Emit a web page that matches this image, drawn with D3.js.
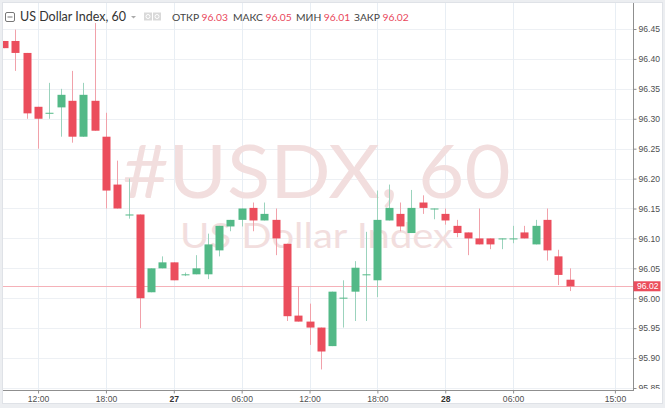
<!DOCTYPE html>
<html>
<head>
<meta charset="utf-8">
<script src="https://cdn.jsdelivr.net/npm/d3@7"></script>
<style>
  html, body { margin: 0; padding: 0; background: #eceef1; }
  svg { display: block; }
  .axis text { font-family: "Liberation Sans", Arial, sans-serif; font-size: 8.6px; fill: #4f4f4f; }
  .axis .domain { stroke: #8f8f8f; }
  .axis .tick line { stroke: #8f8f8f; }
  .hdr { font-family: Lato, "Noto Sans", sans-serif; }
</style>
</head>
<body>
<div id="chart"></div>
<script>
// hourly candles, 26 09:00 .. 28 11:00
const TIMES = [
  '26 09:00','26 10:00','26 11:00','26 12:00','26 13:00','26 14:00','26 15:00','26 16:00','26 17:00',
  '26 18:00','26 19:00','26 20:00','26 21:00','26 22:00','26 23:00',
  '27 00:00','27 01:00','27 02:00','27 03:00','27 04:00','27 05:00','27 06:00','27 07:00','27 08:00',
  '27 09:00','27 10:00','27 11:00','27 12:00','27 13:00','27 14:00','27 15:00','27 16:00','27 17:00',
  '27 18:00','27 19:00','27 20:00','27 21:00','27 22:00','27 23:00',
  '28 00:00','28 01:00','28 02:00','28 03:00','28 04:00','28 05:00','28 06:00','28 07:00','28 08:00',
  '28 09:00','28 10:00','28 11:00'
];
const OPEN = [
  96.430, 96.430, 96.410, 96.320, 96.310, 96.319, 96.330, 96.270, 96.330,
  96.270, 96.190, 96.140, 96.140, 96.010, 96.050,
  96.060, 96.040, 96.040, 96.040, 96.080, 96.120, 96.131, 96.151, 96.130,
  96.131, 96.091, 95.971, 95.961, 95.951, 95.920, 96.001, 96.011, 96.040,
  96.030, 96.130, 96.141, 96.109, 96.160, 96.150,
  96.141, 96.121, 96.110, 96.100, 96.100, 96.100, 96.100, 96.110, 96.090,
  96.131, 96.070, 96.031
];
const HIGH = [
  96.430, 96.449, 96.410, 96.320, 96.360, 96.350, 96.380, 96.360, 96.460,
  96.310, 96.230, 96.200, 96.140, 96.050, 96.070,
  96.060, 96.043, 96.072, 96.108, 96.121, 96.131, 96.150, 96.160, 96.160,
  96.150, 96.091, 96.020, 95.991, 95.951, 96.011, 96.030, 96.062, 96.111,
  96.180, 96.190, 96.160, 96.181, 96.172, 96.150,
  96.150, 96.131, 96.110, 96.150, 96.100, 96.100, 96.121, 96.121, 96.131,
  96.150, 96.081, 96.050
];
const LOW = [
  96.418, 96.380, 96.300, 96.250, 96.300, 96.270, 96.260, 96.270, 96.280,
  96.150, 96.150, 96.133, 95.950, 96.010, 96.050,
  96.030, 96.037, 96.040, 96.032, 96.070, 96.112, 96.120, 96.112, 96.130,
  96.072, 95.962, 95.961, 95.922, 95.881, 95.920, 95.951, 95.962, 95.962,
  96.002, 96.130, 96.112, 96.109, 96.141, 96.132,
  96.123, 96.102, 96.072, 96.090, 96.082, 96.082, 96.092, 96.100, 96.090,
  96.063, 96.022, 96.012
];
const CLOSE = [
  96.418, 96.410, 96.309, 96.300, 96.310, 96.340, 96.270, 96.340, 96.280,
  96.180, 96.150, 96.140, 96.000, 96.050, 96.060,
  96.030, 96.040, 96.050, 96.090, 96.121, 96.131, 96.150, 96.130, 96.141,
  96.100, 95.970, 95.961, 95.951, 95.911, 96.011, 96.001, 96.051, 96.040,
  96.131, 96.151, 96.120, 96.151, 96.151, 96.150,
  96.130, 96.109, 96.100, 96.090, 96.090, 96.100, 96.100, 96.100, 96.121,
  96.080, 96.039, 96.020
];

const X_TICKS = ['26 12:00','26 18:00','27 00:00','27 06:00','27 12:00','27 18:00','28 00:00','28 06:00','28 15:00'];
const X_TICK_LABELS = ['12:00','18:00','27','06:00','12:00','18:00','28','06:00','15:00'];
const Y_TICKS = [95.85, 95.90, 95.95, 96.00, 96.05, 96.10, 96.15, 96.20, 96.25, 96.30, 96.35, 96.40, 96.45];

const SYMBOL = 'US Dollar Index, 60';
const WATERMARK = '#USDX, 60';
const WATERMARK_SUB = 'US Dollar Index';
const OHLC_LABELS = ['ОТКР', 'МАКС', 'МИН', 'ЗАКР'];
const LAST = CLOSE[CLOSE.length - 1];

const parseTime = (s) => {
  const [d, hm] = s.split(' ');
  const [h, m] = hm.split(':');
  return new Date(2018, 5, +d, +h, +m);
};

const W = 665, H = 408;
const frame = { left: 3, top: 3, right: 662, bottom: 403 };
const paneRight = 633, paneBottom = 390;

const COLORS = {
  up: '#53b987', down: '#eb4d5c',
  upWick: '#9bd3bd', downWick: '#f1a1aa',
  grid: '#edf0f4', price: '#f5b1b8', mark: '#f2dede'
};

const candles = TIMES.map((t, i) => ({
  t: parseTime(t), o: OPEN[i], h: HIGH[i], l: LOW[i], c: CLOSE[i]
}));

const svg = d3.select('#chart').append('svg')
  .attr('width', W).attr('height', H);

svg.append('rect')
  .attr('x', frame.left - 0.5).attr('y', frame.top - 0.5)
  .attr('width', frame.right - frame.left + 1).attr('height', frame.bottom - frame.top + 1)
  .attr('fill', '#fff').attr('stroke', '#dfe2e7');

const xScale = d3.scaleTime()
  .domain([new Date(2018, 5, 26, 8, 38), new Date(2018, 5, 28, 16, 36)])
  .range([0, paneRight]);

const yScale = d3.scaleLinear()
  .domain([95.85, 96.45])
  .range([388, 29]);

const step = xScale(parseTime('26 13:00')) - xScale(parseTime('26 12:00'));
const bodyW = Math.round(step * 0.7);

svg.append('clipPath').attr('id', 'pane')
  .append('rect')
    .attr('x', frame.left).attr('y', frame.top)
    .attr('width', paneRight - frame.left).attr('height', paneBottom - frame.top);

const pane = svg.append('g').attr('clip-path', 'url(#pane)');

// grid
pane.append('g').selectAll('line')
  .data(Y_TICKS)
  .enter().append('line')
    .attr('x1', frame.left).attr('x2', paneRight)
    .attr('y1', (d) => Math.round(yScale(d)) + 0.5)
    .attr('y2', (d) => Math.round(yScale(d)) + 0.5)
    .attr('stroke', COLORS.grid);

pane.append('g').selectAll('line')
  .data(X_TICKS)
  .enter().append('line')
    .attr('x1', (d) => Math.round(xScale(parseTime(d))) + 0.5)
    .attr('x2', (d) => Math.round(xScale(parseTime(d))) + 0.5)
    .attr('y1', frame.top).attr('y2', paneBottom)
    .attr('stroke', '#e8eef4');

// watermark
pane.append('text')
  .attr('x', paneRight / 2).attr('y', 198)
  .attr('text-anchor', 'middle')
  .attr('class', 'hdr')
  .attr('font-size', 74)
  .attr('textLength', 388).attr('lengthAdjust', 'spacingAndGlyphs')
  .attr('fill', COLORS.mark)
  .text(WATERMARK);

pane.append('text')
  .attr('x', paneRight / 2).attr('y', 248)
  .attr('text-anchor', 'middle')
  .attr('class', 'hdr')
  .attr('font-size', 35)
  .attr('textLength', 273).attr('lengthAdjust', 'spacingAndGlyphs')
  .attr('fill', COLORS.mark)
  .text(WATERMARK_SUB);

// last price line
pane.append('line')
  .attr('x1', frame.left).attr('x2', paneRight)
  .attr('y1', Math.round(yScale(LAST)) + 0.5).attr('y2', Math.round(yScale(LAST)) + 0.5)
  .attr('stroke', COLORS.price);

// candles
const candleG = pane.append('g').selectAll('g')
  .data(candles)
  .enter().append('g');

candleG.append('line')
  .attr('x1', (d) => Math.round(xScale(d.t)) + 0.5)
  .attr('x2', (d) => Math.round(xScale(d.t)) + 0.5)
  .attr('y1', (d) => yScale(d.h))
  .attr('y2', (d) => yScale(d.l))
  .attr('stroke', (d) => d.c >= d.o ? COLORS.upWick : COLORS.downWick);

candleG.append('rect')
  .attr('x', (d) => Math.round(xScale(d.t)) - bodyW / 2 + 0.5)
  .attr('y', (d) => yScale(Math.max(d.o, d.c)))
  .attr('width', bodyW)
  .attr('height', (d) => Math.max(1, Math.abs(yScale(d.o) - yScale(d.c))))
  .attr('fill', (d) => d.c >= d.o ? COLORS.up : COLORS.down);

// axes
const yAxis = d3.axisRight(yScale)
  .tickValues(Y_TICKS)
  .tickSize(3)
  .tickPadding(2)
  .tickFormat(d3.format('.2f'));

// price scale is cut off where the time scale starts
svg.append('clipPath').attr('id', 'yclip')
  .append('rect')
    .attr('x', -2).attr('y', 0)
    .attr('width', 40).attr('height', paneBottom - 1);

const yAxisG = svg.append('g')
  .attr('class', 'axis')
  .attr('transform', `translate(${ paneRight + 0.5 }, 0)`)
  .attr('clip-path', 'url(#yclip)')
  .call(yAxis);
yAxisG.select('.domain').attr('d', `M0,${ frame.top }V${ paneBottom }`);

// axis line itself runs down to the time scale
svg.append('line')
  .attr('x1', paneRight + 0.5).attr('x2', paneRight + 0.5)
  .attr('y1', paneBottom - 2).attr('y2', paneBottom + 1)
  .attr('stroke', '#8f8f8f');

const xAxis = d3.axisBottom(xScale)
  .tickValues(X_TICKS.map(parseTime))
  .tickSize(3)
  .tickPadding(2)
  .tickFormat((d, i) => X_TICK_LABELS[i]);

const xAxisG = svg.append('g')
  .attr('class', 'axis')
  .attr('transform', `translate(0, ${ paneBottom + 0.5 })`)
  .call(xAxis);
xAxisG.select('.domain').attr('d', `M${ frame.left },0H${ paneRight }`);
xAxisG.selectAll('.tick text')
  .attr('font-weight', (d, i) => X_TICK_LABELS[i].length === 2 ? 'bold' : null)
  .style('fill', (d, i) => X_TICK_LABELS[i].length === 2 ? '#333' : null);

// last price badge
const badgeY = yScale(LAST);
svg.append('rect')
  .attr('x', paneRight + 0.5).attr('y', badgeY - 5)
  .attr('width', frame.right - paneRight - 2).attr('height', 10)
  .attr('fill', COLORS.down);
svg.append('text')
  .attr('x', paneRight + 4).attr('y', badgeY + 3)
  .attr('font-family', '"Liberation Sans", Arial, sans-serif')
  .attr('font-size', 8.6)
  .attr('fill', '#fff')
  .text(d3.format('.2f')(LAST));

// header
const hdr = svg.append('g').attr('class', 'hdr');

hdr.append('rect')
  .attr('x', 5.5).attr('y', 12.5).attr('width', 9).attr('height', 9).attr('rx', 1.5)
  .attr('fill', 'none').attr('stroke', '#777');
hdr.append('line')
  .attr('x1', 7.5).attr('x2', 12.5).attr('y1', 17).attr('y2', 17)
  .attr('stroke', '#777');

hdr.append('text')
  .attr('x', 20).attr('y', 21)
  .attr('font-size', 12.5)
  .attr('fill', '#333')
  .text(SYMBOL);

hdr.append('path')
  .attr('d', 'M131,16l2.5,2.5l2.5,-2.5z')
  .attr('fill', '#aaa');

[144, 153].forEach((x0) => {
  hdr.append('rect')
    .attr('x', x0).attr('y', 12.5).attr('width', 8).attr('height', 8)
    .attr('fill', '#d9d9d9');
  hdr.append('circle')
    .attr('cx', x0 + 4).attr('cy', 16.5).attr('r', 2)
    .attr('fill', 'none').attr('stroke', '#fff');
});

const ohlcValues = [OPEN[OPEN.length - 1], HIGH[HIGH.length - 1], LOW[LOW.length - 1], LAST];
const ohlcX = [172, 233, 296, 354];

OHLC_LABELS.forEach((label, i) => {
  const t = hdr.append('text')
    .attr('x', ohlcX[i]).attr('y', 20.5)
    .attr('font-size', 10.3);
  t.append('tspan').attr('fill', '#444').text(label);
  t.append('tspan').attr('fill', '#e9475b').attr('dx', 2.5).text(d3.format('.2f')(ohlcValues[i]));
});
</script>
</body>
</html>
